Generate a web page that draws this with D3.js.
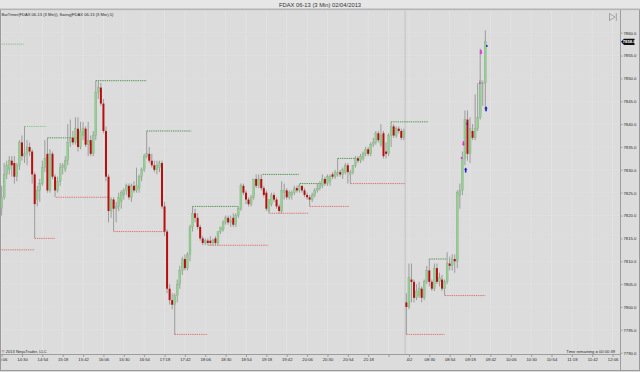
<!DOCTYPE html>
<meta charset="utf-8">
<title>FDAX 06-13 (3 Min)</title>
<style>
body { margin: 0; background: #dcdcdc; font-family: Arial, "Liberation Sans", sans-serif; }
svg text { fill: #2a2a2a; }
.axis text { font-size: 4.2px; }
</style>
<body>
<svg id="chart" width="640" height="372"></svg>
<script src="https://d3js.org/d3.v7.min.js"></script>
<script>
// ---- data ----
var title = "FDAX 06-13 (3 Min)  02/04/2013";
var indicatorText = "BarTimer(FDAX 06-13 (3 Min)), Swing(FDAX 06-13 (3 Min),5)";
var copyText = "\u00a9 2013 NinjaTrader, LLC";
var timerText = "Time remaining = 00:00:39";
var lastPrice = "7858.0";

// one label every 8 bars (3 min bars), "" = tick without label
var xLabels = ["14:06","14:30","14:54","15:18","15:42","16:06","16:30","16:54","17:18","17:42",
  "18:06","18:30","18:54","19:18","19:42","20:06","20:30","20:54","21:18","",
  "4/2","08:30","08:54","09:18","09:42","10:06","10:30","10:54","11:18","11:42","12:06"];
var yTicks = [7790,7795,7800,7805,7810,7815,7820,7825,7830,7835,7840,7845,7850,7855,7860];

// [open, high, low, close]  session 1: 14:06 .. 22:00
var session1 = [
 [7821.5,7826.5,7820,7824],[7824,7831.5,7823.5,7829],[7829,7832,7828,7831],[7830,7833,7829,7832],
 [7832,7833,7828.5,7831],[7831.5,7833,7827,7828.5],[7828.5,7831.5,7827.5,7831],[7831,7836.5,7830,7836],
 [7836,7837.5,7832,7833],[7833,7839.5,7831.5,7833.5],[7833.5,7836.5,7831,7835],[7835,7836,7833,7834],
 [7834,7834.5,7827,7829],[7829,7829.5,7815,7822.5],[7823.5,7826.5,7822,7825.5],[7825.5,7828,7823,7827],
 [7827,7832,7826.5,7830.5],[7830.5,7836.5,7829.5,7832.5],[7833.5,7837,7825,7825.5],[7825.5,7834.5,7825,7833.5],
 [7833.5,7834,7828,7828.5],[7828.5,7829,7824,7825.5],[7825.5,7828.5,7825,7827.5],[7827.5,7831.5,7826.5,7830.5],
 [7830.5,7831.5,7829,7831],[7830,7833,7829.5,7832],[7832,7840,7831,7836],[7836,7841,7835,7837],
 [7837,7838.5,7835.5,7836],[7836,7841.5,7835.5,7839],[7839,7841.5,7834,7835],[7835,7840.5,7834.5,7838.5],
 [7837.5,7840.5,7836.5,7839],[7839,7839.5,7835,7835.5],[7835.5,7840.5,7833,7836.5],[7836.5,7837.5,7833,7833.5],
 [7833.5,7838.5,7833,7837.5],[7837.5,7849.5,7836.5,7847],[7847,7849.5,7845.5,7848],[7848,7849,7844,7844.5],
 [7844.5,7845.5,7838,7838.5],[7838.5,7839.5,7827.5,7828.5],[7828.5,7829,7818.5,7821],[7821,7824,7819.5,7823.5],
 [7823.5,7824,7816.5,7821.5],[7821.5,7823,7818.5,7822],[7822,7825,7821,7824],[7823,7825.5,7821.5,7825],
 [7824.5,7826,7823.5,7825.5],[7825.5,7827,7824.5,7826.5],[7826.5,7827,7823.5,7824],[7824,7827,7823,7826.5],
 [7826.5,7827.5,7825,7825.5],[7825.5,7830.5,7825,7826.5],[7826,7829,7825,7828.5],[7828.5,7830.5,7827.5,7830],
 [7830,7833.5,7829.5,7833],[7833,7838.5,7832.5,7833.5],[7833.5,7835,7831.5,7832],[7832,7833.5,7830.5,7831],
 [7831,7832,7829.5,7830],[7830,7832,7829,7831],[7830.5,7832,7829.5,7831.5],[7831.5,7832,7821.5,7822],
 [7822,7823,7815.5,7816.5],[7816.5,7817,7803,7804],[7804,7805,7800.5,7801.5],[7801.5,7803,7799.5,7800.5],
 [7800.5,7803,7794,7802.5],[7802.5,7806,7801,7805],[7805,7809,7804,7808],[7808,7811,7807,7810.5],
 [7810.5,7811.5,7808,7808.5],[7808.5,7812,7808,7811.5],[7811.5,7818,7810,7817.5],[7817.5,7822,7816.5,7820.5],
 [7820.5,7821.5,7818.5,7819.5],[7819.5,7820.5,7817,7817.5],[7817.5,7818,7814.5,7815],[7815,7815.5,7813.5,7814],
 [7814,7815,7813.5,7814.5],[7814.5,7815,7813.5,7814],[7814.5,7815.5,7813.5,7814],[7814,7815,7813.5,7814.5],
 [7815,7815.5,7813.5,7814],[7814,7816.5,7813.5,7816.5],[7816.5,7817.5,7816,7817.5],[7817,7819,7816.5,7818.5],
 [7818.5,7820,7818,7819.5],[7819.5,7820,7818,7818.5],[7818.5,7820,7817.5,7819],[7819.5,7820.5,7817.5,7818],
 [7818,7820.5,7817.5,7820],[7820,7822,7819.5,7821.5],[7821.5,7827,7821,7826.5],[7826.5,7827,7824.5,7825],
 [7825,7825.5,7822.5,7823.5],[7823.5,7824,7822,7822.5],[7822.5,7824.5,7822,7824],[7824,7828,7823.5,7828],
 [7828,7829,7826,7826.5],[7826.5,7829,7826,7828],[7828,7829,7825.5,7826],[7826,7826.5,7824,7824.5],
 [7825,7825.5,7821,7821.5],[7821,7823.5,7820.5,7823.5],[7822.5,7825,7822,7824.5],[7824.5,7825,7823,7823.5],
 [7823.5,7824,7821.5,7822],[7822,7822.5,7820.5,7821],[7821,7827.5,7820.5,7825.5],[7825,7827,7823.5,7825.5],
 [7825.5,7826,7823.5,7824],[7824,7825.5,7823.5,7825],[7824.5,7825.5,7823.5,7825],[7825,7826.5,7824.5,7826],
 [7826,7826.5,7825,7825.5],[7825.5,7827,7825,7826.5],[7826.5,7826.5,7825,7825.5],[7825.5,7826,7824,7824.5],
 [7824.5,7825,7823.5,7824],[7824,7824.5,7822,7823.5],[7823.5,7825,7823,7824.5],[7824.5,7826,7824,7825.5],
 [7825.5,7827,7825,7826],[7826,7827.5,7825.5,7827],[7826.5,7829,7826,7828],[7828,7828.5,7826.5,7827],
 [7827,7829,7826.5,7828.5],[7827.5,7829,7826.5,7828.5],[7829,7829.5,7828,7828.5],[7828.5,7830,7828,7829.5],
 [7829,7832.5,7828.5,7829.5],[7829.5,7830,7828.5,7829],[7829,7830.5,7828,7830],[7829.5,7831.5,7829,7831],
 [7831,7831.5,7827,7829.5],[7829,7830,7827,7829.5],[7829.5,7831,7829,7831],[7831,7833,7830.5,7832.5],
 [7832.5,7833,7831.5,7832],[7832,7833.5,7831.5,7833],[7832.5,7834,7832,7833.5],[7833.5,7835,7833,7834.5],
 [7834.5,7835,7833,7833.5],[7833.5,7836,7833,7835.5],[7835.5,7837,7835,7836],[7836,7838.5,7835.5,7838],
 [7838,7838.5,7836,7836.5],[7835.5,7840,7835,7837.5],[7838,7838.5,7832.5,7833],[7834,7836,7832.5,7833.5],
 [7833.5,7838,7833,7837.5],[7837.5,7840.5,7835,7839.5],[7839.5,7840,7837,7837.5],[7837.5,7839.5,7837,7839],
 [7839,7839.5,7838,7838.5],[7838.5,7839,7836.5,7837],[7837,7839,7836.5,7838.5]
];
// session 2: 08:03 .. 09:36
var session2 = [
 [7801,7803,7794,7800],[7800,7809.5,7799.5,7806.5],[7806,7809.5,7801,7805.5],[7805.5,7806,7801,7802],
 [7802,7805,7801.5,7803.5],[7802.5,7805.5,7802,7804],[7804,7804.5,7801,7802],[7802,7806,7801.5,7805.5],
 [7805.5,7809,7805,7808],[7808,7810.5,7804.5,7805.5],[7805.5,7806,7803.5,7804],[7804,7809.5,7803.5,7808.5],
 [7808.5,7809.5,7805,7805.5],[7805.5,7807.5,7804.5,7806.5],[7806,7807,7803.5,7804],[7804,7806,7802.5,7805.5],
 [7805.5,7812,7805,7809.5],[7809.5,7811,7808,7809],[7809,7811.5,7808,7810.5],[7810.5,7811.5,7807.5,7810],
 [7810,7825.5,7808.5,7825],[7824.5,7827,7821.5,7825.5],[7825.5,7834,7824.5,7832.5],[7832.5,7843,7831,7841],
 [7841,7843,7832,7833.5],[7833.5,7841.5,7831.5,7839],[7838.5,7840,7836.5,7837],[7837,7846.5,7836.5,7839],
 [7839,7849,7838.5,7841.5],[7841.5,7856.5,7841,7849.5],[7849,7849.5,7844,7849],[7849,7860.5,7843,7858]
];
var session2Start = 159;

// swing lines [from bar, to bar, price]
var swingHighs = [[0,8.8,7857.5],[9,17.7,7839.5],[18,29.5,7837],[37,57,7849.5],[57,74.5,7838.5],
  [75,93,7822],[102.5,116.7,7829],[117.2,126.2,7827],[132,140,7832.5],[153,167.6,7840.5],[168,175,7810.5]];
var swingLows = [[0,13,7812.5],[13,21,7815],[21.4,42,7824],[44.3,63.8,7816.5],[68,81,7794],
  [81.2,104.8,7813.5],[105.2,120.7,7820.5],[121.1,136.5,7822],[137.1,158.7,7827],[159,174,7794],[174.2,190,7802.5]];

// trade marks [bar, price]
var sellArrows = [[181.4,7835.6],[188.3,7855.6]];
var sellDots = [[180.7,7832.6],[187.9,7849.0]];
var buyArrows = [[182.3,7830.1],[190.3,7843.5]];
var buyDots = [[182.9,7840.1],[190.6,7857.1]];

// ---- drawing ----
var svg = d3.select("#chart");
var plot = {left: 1, right: 620.5, top: 10.5, bottom: 354.5};

var x = d3.scaleLinear().domain([0, 240]).range([1.6, 612.6]);
var y = d3.scaleLinear().domain([7790, 7860]).range([352.7, 32.7]);

var bars = session1.map(function(d, i) { return {i: i, o: d[0], h: d[1], l: d[2], c: d[3]}; })
  .concat(session2.map(function(d, i) { return {i: session2Start + i, o: d[0], h: d[1], l: d[2], c: d[3]}; }));

// backgrounds
svg.append("rect").attr("width", 640).attr("height", 372).attr("fill", "#dcdcdc");
svg.append("rect").attr("width", 640).attr("height", 9).attr("fill", "#e6e6e6");
svg.append("rect").attr("y", 8.5).attr("width", 640).attr("height", 1.6).attr("fill", "#b4b4b4");

svg.append("defs").append("clipPath").attr("id", "clip").append("rect")
  .attr("x", plot.left).attr("y", plot.top)
  .attr("width", plot.right - plot.left).attr("height", plot.bottom - plot.top);

var g = svg.append("g").attr("clip-path", "url(#clip)");

// grid
g.selectAll(".vgrid").data(d3.range(0, 241, 8)).enter().append("line")
  .attr("x1", function(d) { return x(d); }).attr("x2", function(d) { return x(d); })
  .attr("y1", plot.top).attr("y2", plot.bottom)
  .attr("stroke", "#e3e3e3").attr("stroke-width", 0.8);
g.selectAll(".hgrid").data(yTicks).enter().append("line")
  .attr("x1", plot.left).attr("x2", plot.right)
  .attr("y1", function(d) { return y(d); }).attr("y2", function(d) { return y(d); })
  .attr("stroke", "#e1e1e1").attr("stroke-width", 0.6);

// session break
g.append("line")
  .attr("x1", x(session2Start - 0.5)).attr("x2", x(session2Start - 0.5))
  .attr("y1", plot.top).attr("y2", plot.bottom)
  .attr("stroke", "#bdbdbd").attr("stroke-width", 0.8);

// swing lines
g.selectAll(".sh").data(swingHighs).enter().append("line")
  .attr("x1", function(d) { return x(d[0]); }).attr("x2", function(d) { return x(d[1]); })
  .attr("y1", function(d) { return y(d[2]); }).attr("y2", function(d) { return y(d[2]); })
  .attr("stroke", function(d, i) { return (i < 2) ? "#7fbf7f" : "#3f8a3f"; })
  .attr("stroke-width", 0.9).attr("stroke-dasharray", "1.3,0.9");
g.selectAll(".sl").data(swingLows).enter().append("line")
  .attr("x1", function(d) { return x(d[0]); }).attr("x2", function(d) { return x(d[1]); })
  .attr("y1", function(d) { return y(d[2]); }).attr("y2", function(d) { return y(d[2]); })
  .attr("stroke", "#e26464").attr("stroke-width", 0.9).attr("stroke-dasharray", "1.3,0.9");

// candles
var candle = g.selectAll(".candle").data(bars).enter().append("g");
candle.append("line")
  .attr("x1", function(d) { return x(d.i); }).attr("x2", function(d) { return x(d.i); })
  .attr("y1", function(d) { return y(d.h); }).attr("y2", function(d) { return y(d.l); })
  .attr("stroke", "#8c8c8c").attr("stroke-width", 0.8);
candle.append("rect")
  .attr("x", function(d) { return x(d.i) - 1; })
  .attr("width", 2)
  .attr("y", function(d) { return y(Math.max(d.o, d.c)); })
  .attr("height", function(d) { return Math.max(0.7, Math.abs(y(d.o) - y(d.c))); })
  .attr("fill", function(d) { return d.c > d.o ? "#93cf93" : (d.c < d.o ? "#b80f0f" : "#8c8c8c"); })
  .attr("stroke", function(d) { return d.c > d.o ? "#7aa67a" : "none"; })
  .attr("stroke-width", 0.3);

// trade marks
function downArrow(d) {
  var cx = x(d[0]), cy = y(d[1]);
  return "M" + (cx - 0.8) + "," + (cy - 3) + "h1.6v2.6h0.9l-1.7,2.2l-1.7,-2.2h0.9z";
}
function upArrow(d) {
  var cx = x(d[0]), cy = y(d[1]);
  return "M" + (cx - 0.8) + "," + (cy + 3) + "h1.6v-2.6h0.9l-1.7,-2.2l-1.7,2.2h0.9z";
}
g.selectAll(".sa").data(sellArrows).enter().append("path").attr("d", downArrow).attr("fill", "#e034e0");
g.selectAll(".ba").data(buyArrows).enter().append("path").attr("d", upArrow).attr("fill", "#1a1ad0");
g.selectAll(".sd").data(sellDots).enter().append("rect")
  .attr("x", function(d) { return x(d[0]) - 0.8; }).attr("y", function(d) { return y(d[1]) - 1; })
  .attr("width", 1.6).attr("height", 2).attr("fill", "#e034e0");
g.selectAll(".bd").data(buyDots).enter().append("rect")
  .attr("x", function(d) { return x(d[0]) - 0.7; }).attr("y", function(d) { return y(d[1]) - 1; })
  .attr("width", 1.4).attr("height", 2).attr("fill", "#1a1ad0");

// axes
var xAxis = svg.append("g").attr("class", "axis").attr("transform", "translate(0," + plot.bottom + ")")
  .call(d3.axisBottom(x).tickValues(d3.range(0, 241, 8)).tickSize(2.5).tickPadding(1.5)
    .tickFormat(function(d, i) { return xLabels[i]; }));
xAxis.select(".domain").remove();
xAxis.selectAll(".tick line").attr("stroke", "#777").attr("stroke-width", 0.6);

var yAxis = svg.append("g").attr("class", "axis").attr("transform", "translate(" + plot.right + ",0)")
  .call(d3.axisRight(y).tickValues(yTicks).tickSize(2).tickPadding(1).tickFormat(d3.format(".1f")));
yAxis.select(".domain").remove();
yAxis.selectAll(".tick line").attr("stroke", "#777").attr("stroke-width", 0.6);
svg.selectAll(".axis text").attr("fill", "#333");

// frame lines
svg.append("line").attr("x1", 0).attr("x2", plot.right).attr("y1", plot.bottom).attr("y2", plot.bottom)
  .attr("stroke", "#8e8e8e").attr("stroke-width", 0.8);
svg.append("line").attr("x1", plot.right).attr("x2", plot.right).attr("y1", 10).attr("y2", 370)
  .attr("stroke", "#8e8e8e").attr("stroke-width", 0.8);
svg.append("line").attr("x1", 0.5).attr("x2", 0.5).attr("y1", 10).attr("y2", 370)
  .attr("stroke", "#9a9a9a").attr("stroke-width", 1);
svg.append("line").attr("x1", 0).attr("x2", 640).attr("y1", 370.5).attr("y2", 370.5)
  .attr("stroke", "#9a9a9a").attr("stroke-width", 1);
svg.append("line").attr("x1", 639.5).attr("x2", 639.5).attr("y1", 10).attr("y2", 371)
  .attr("stroke", "#9a9a9a").attr("stroke-width", 1);

// last price tag
var ty = y(+lastPrice);
svg.append("path")
  .attr("d", "M" + (plot.right + 0.5) + "," + ty + "l3,-3.2h10.5v6.4h-10.5z")
  .attr("fill", "#111");
svg.append("text").attr("x", plot.right + 8.7).attr("y", ty + 1.5)
  .attr("text-anchor", "middle").attr("font-size", 4.2).attr("font-weight", "bold")
  .style("fill", "#fff").text(lastPrice);

// "go to end" icon
svg.append("path").attr("d", "M609.5,13.5L615,17L609.5,20.5Z")
  .attr("fill", "none").attr("stroke", "#8a8a8a").attr("stroke-width", 0.7);
svg.append("line").attr("x1", 616.3).attr("x2", 616.3).attr("y1", 13.2).attr("y2", 20.8)
  .attr("stroke", "#8a8a8a").attr("stroke-width", 0.7);

// texts
svg.append("text").attr("x", 320).attr("y", 7).attr("text-anchor", "middle")
  .attr("font-size", 5.8).style("fill", "#333").text(title);
svg.append("text").attr("x", 1.5).attr("y", 15.5).attr("font-size", 4.1).text(indicatorText);
svg.append("text").attr("x", 1.5).attr("y", 353).attr("font-size", 4.1).text(copyText);
svg.append("text").attr("x", 615).attr("y", 352.8).attr("text-anchor", "end")
  .attr("font-size", 4.1).text(timerText);
</script>
</body>
